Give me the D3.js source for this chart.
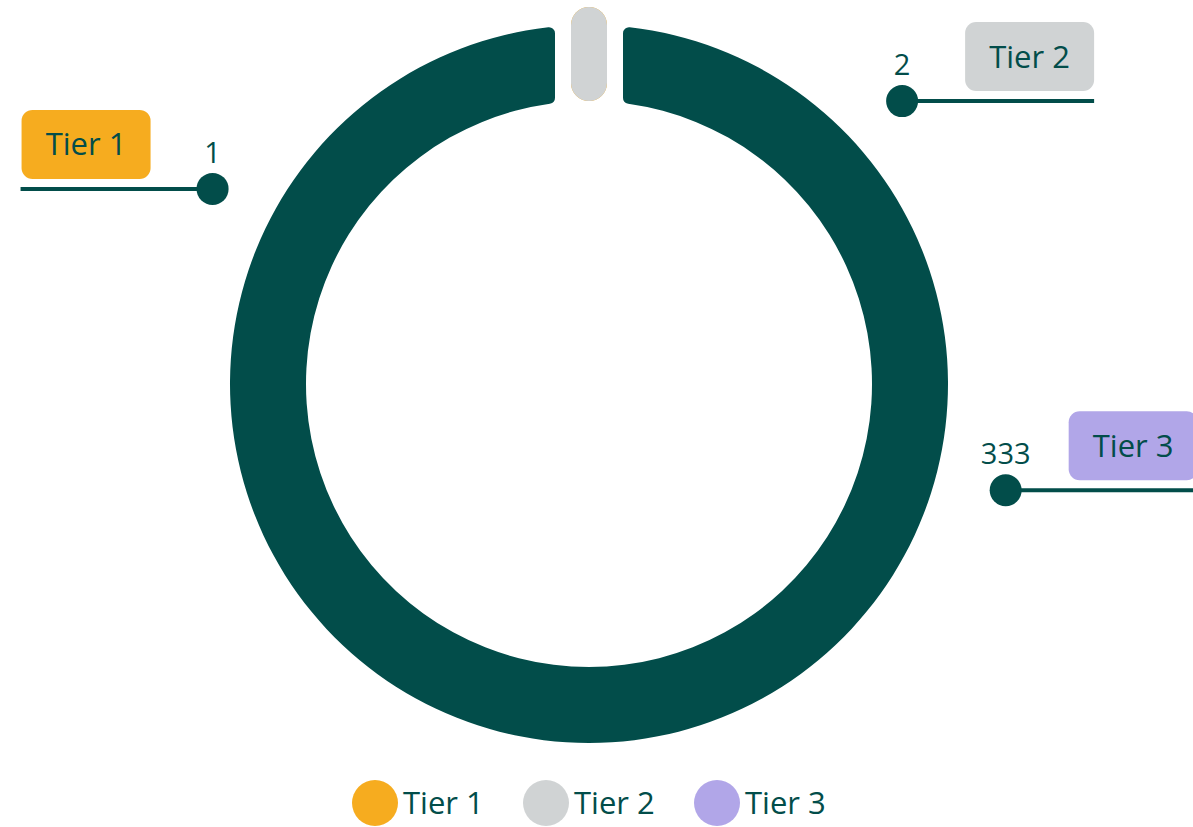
<!DOCTYPE html>
<html>
<head>
<meta charset="utf-8">
<script src="https://cdn.jsdelivr.net/npm/d3@7"></script>
<style>
  body { margin: 0; background: #fff; }
  svg { display: block; font-family: "Open Sans", "Noto Sans", sans-serif; }
</style>
</head>
<body>
<svg id="chart" width="1193" height="827"></svg>
<script>
// data
const tiers = ["Tier 1", "Tier 2", "Tier 3"];
const values = [1, 2, 333];
const legendColors = ["#F6AC1F", "#D0D3D4", "#B1A6E8"];
const ringColors = ["#F6AC1F", "#D0D3D4", "#024D4A"];
// where each callout sits around the ring (degrees clockwise from top, distance from centre)
const labelAngles = [297.4, 47.9, 104.3];
const labelRadii = [424, 422, 430];

const textColor = "#024D4A";

let width = 1193, height = 827;
let cx = 589, cy = 384;
let outerR = 359, innerR = 283;

let svg = d3.select("#chart");
let g = svg.append("g").attr("transform", `translate(${cx},${cy})`);

let data = tiers.map((t, i) => ({tier: t, value: values[i], ring: ringColors[i], color: legendColors[i], angle: labelAngles[i], r: labelRadii[i]}));
let total = d3.sum(values);

// big slices drawn as arcs, tiny ones (below threshold) as pills at the top
let minShare = 0.02;
let big = data.filter(d => d.value / total >= minShare);
let small = data.filter(d => d.value / total < minShare);

let arc = d3.arc()
    .innerRadius(innerR)
    .outerRadius(outerR)
    .padRadius(outerR)
    .cornerRadius(6);

let pie = d3.pie().sort(null).value(d => d.value)
    .startAngle(0).endAngle(2 * Math.PI - 1e-9);

// gap around the top so the pills fit
let gapHalf = 34;
let padAngle = 2 * Math.asin(gapHalf / outerR);

g.selectAll(".slice")
    .data(pie(big))
    .enter().append("path")
    .attr("class", "slice")
    .attr("fill", d => d.data.ring)
    .attr("d", d => arc({startAngle: d.startAngle, endAngle: d.endAngle, padAngle: padAngle}));

let pillW = 36;
g.selectAll(".pill")
    .data(small)
    .enter().append("line")
    .attr("class", "pill")
    .attr("x1", 0).attr("x2", 0)
    .attr("y1", -(innerR + pillW / 2))
    .attr("y2", -outerR)
    .attr("stroke", d => d.ring)
    .attr("stroke-width", pillW)
    .attr("stroke-linecap", "round");

// callouts
let lineLen = 192;
let boxW = 129, boxH = 69;

data.forEach(d => {
    let a = d.angle * Math.PI / 180;
    let px = Math.sin(a) * d.r;
    let py = -Math.cos(a) * d.r;
    let dir = px < 0 ? -1 : 1;
    let endX = px + dir * lineLen;

    g.append("line")
        .attr("x1", px).attr("y1", py)
        .attr("x2", endX).attr("y2", py)
        .attr("stroke", textColor)
        .attr("stroke-width", 4);

    g.append("circle")
        .attr("cx", px).attr("cy", py)
        .attr("r", 16)
        .attr("fill", textColor);

    g.append("text")
        .attr("x", px).attr("y", py - 26)
        .attr("text-anchor", "middle")
        .attr("fill", textColor)
        .attr("font-size", 29)
        .text(d.value);

    let bx = dir < 0 ? endX + 1 : endX - boxW;
    g.append("rect")
        .attr("x", bx).attr("y", py - 10 - boxH)
        .attr("width", boxW).attr("height", boxH)
        .attr("rx", 11)
        .attr("fill", d.color);

    g.append("text")
        .attr("x", bx + boxW / 2).attr("y", py - 10 - boxH / 2 + 11)
        .attr("text-anchor", "middle")
        .attr("fill", textColor)
        .attr("font-size", 31)
        .text(d.tier);
});

// legend
let legend = svg.append("g").attr("transform", "translate(375,803)");
let item = legend.selectAll(".item")
    .data(data)
    .enter().append("g")
    .attr("class", "item")
    .attr("transform", (d, i) => `translate(${i * 171},0)`);

item.append("circle")
    .attr("r", 23)
    .attr("fill", d => d.color);

item.append("text")
    .attr("x", 28).attr("y", 11)
    .attr("fill", textColor)
    .attr("font-size", 31)
    .text(d => d.tier);
</script>
</body>
</html>
